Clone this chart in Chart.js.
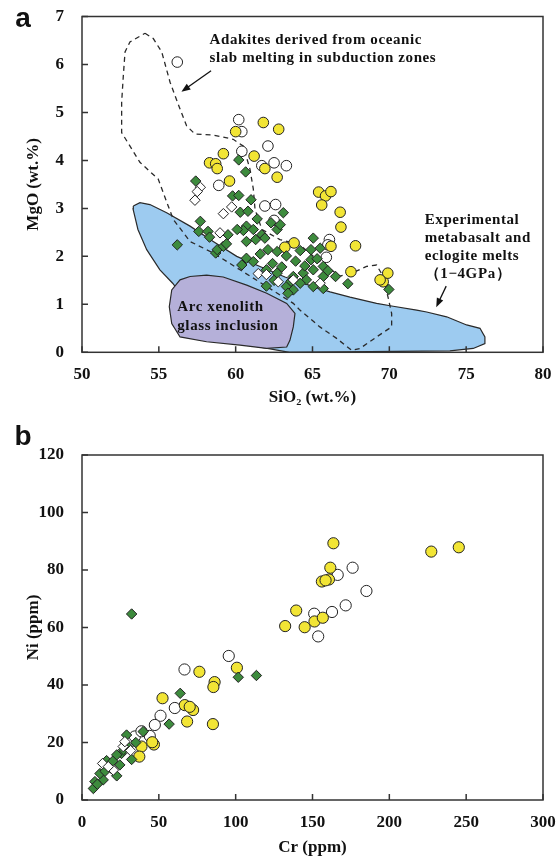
<!DOCTYPE html>
<html>
<head>
<meta charset="utf-8">
<script src="https://cdn.jsdelivr.net/npm/chart.js@4.4.1/dist/chart.umd.min.js"></script>
<style>
  html, body { margin: 0; padding: 0; background: #fff; }
  canvas { display: block; }
</style>
</head>
<body>
<canvas id="chartA" width="559" height="415"></canvas>
<canvas id="chartB" width="559" height="445"></canvas>
<script>
// ---- panel a : MgO vs SiO2 ----
const sio2Ticks = [50, 55, 60, 65, 70, 75, 80];
const mgoTicks = [0, 1, 2, 3, 4, 5, 6, 7];

const mgoYellow = [[60.0,4.60],[61.8,4.79],[62.8,4.65],[59.2,4.14],[61.2,4.09],[58.3,3.95],[58.7,3.93],[58.8,3.83],
  [61.9,3.83],[62.7,3.65],[59.6,3.57],[65.4,3.34],[65.85,3.26],[66.2,3.35],[65.6,3.07],[66.8,2.92],[66.85,2.61],
  [67.8,2.22],[67.5,1.68],[69.6,1.47],[69.9,1.65],[69.4,1.51],[63.8,2.28],[63.2,2.19],[66.2,2.21]];
const mgoWhite = [[56.2,6.05],[60.2,4.85],[60.4,4.60],[62.1,4.30],[60.4,4.19],[61.7,3.89],[62.5,3.95],[63.3,3.89],
  [58.9,3.48],[61.9,3.05],[62.6,3.08],[62.5,2.75],[66.1,2.35],[66.0,2.24],[65.9,1.98]];
const mgoGreen = [[56.2,2.24],[57.4,3.57],[57.7,2.73],[57.6,2.52],[58.2,2.52],[58.3,2.40],[58.7,2.07],[58.8,2.14],
  [59.2,2.21],[59.4,2.26],[59.8,3.26],[60.2,3.27],[60.2,4.01],[60.65,3.76],[61.0,3.18],[60.3,2.92],[60.8,2.94],
  [61.4,2.78],[60.7,2.63],[60.5,2.54],[60.1,2.56],[61.15,2.56],[61.7,2.45],[60.7,2.31],[62.7,2.56],[61.9,2.38],
  [63.1,2.91],[62.9,2.66],[62.1,2.14],[62.7,2.10],[64.2,2.12],[65.05,2.38],[64.9,2.14],[65.5,2.17],[60.7,1.96],
  [60.4,1.82],[61.15,1.89],[62.0,1.72],[62.7,1.65],[63.3,2.01],[63.9,1.90],[64.9,1.93],[65.7,1.79],[65.05,1.72],
  [64.4,1.65],[63.75,1.58],[64.6,1.51],[65.7,1.58],[66.5,1.58],[67.3,1.43],[64.2,1.44],[65.05,1.37],[65.7,1.33],
  [63.3,1.37],[63.75,1.30],[62.0,1.38],[63.4,1.23],[69.97,1.31],[61.6,2.05],[62.4,1.85],[63.0,1.78],[61.3,2.35],
  [62.3,2.70],[59.5,2.45],[64.5,1.80],[63.6,1.48],[62.5,1.50],[66.0,1.70],[65.3,1.95]];
const mgoWhiteDiamond = [[57.35,3.17],[57.7,3.44],[57.5,3.35],[59.2,2.89],[59.74,3.03],[58.98,2.49],[61.47,1.64],
  [62.77,1.47],[63.75,1.51],[65.5,1.44],[62.0,1.62]];

// field outlines (SiO2, MgO)
const metabasaltField = [[53.34,3.05],[53.77,3.12],[54.42,3.08],[55.51,2.91],[57.03,2.63],[58.54,2.31],[60.07,2.00],
  [61.58,1.79],[63.21,1.57],[65.05,1.37],[66.14,1.26],[67.44,1.15],[69.17,1.02],[70.25,0.96],[71.78,0.88],[72.43,0.84],
  [73.73,0.74],[75.03,0.57],[75.9,0.50],[76.22,0.32],[76.22,0.18],[75.46,0.08],[73.94,0.03],[63.5,0.0],[60.9,0.15],
  [57.7,0.67],[55.9,1.44],[55.07,1.72],[54.21,2.14],[53.64,2.56],[53.32,2.99],[53.34,3.05]];
const xenolithField = [[57.03,1.58],[58.11,1.61],[59.19,1.57],[60.72,1.40],[62.02,1.23],[63.32,1.02],[63.86,0.81],
  [63.75,0.53],[63.53,0.25],[63.32,0.11],[62.02,0.08],[60.28,0.15],[58.11,0.22],[56.38,0.32],[55.84,0.60],[55.68,0.95],
  [55.84,1.30],[56.38,1.51],[57.03,1.58]];
const adakiteField = [[54.10,6.65],[54.64,6.54],[55.19,6.26],[55.73,5.63],[56.38,5.07],[56.81,4.72],[57.35,4.55],
  [58.54,4.53],[59.84,4.44],[60.49,4.30],[60.93,3.82],[61.15,3.40],[61.26,2.98],[61.71,2.56],[62.88,2.35],[64.18,2.24],
  [65.48,1.89],[66.78,1.59],[67.63,1.66],[68.52,1.79],[69.17,1.82],[69.60,1.58],[69.93,1.13],[70.15,0.81],[70.15,0.53],
  [69.17,0.32],[68.09,0.08],[67.55,0.04],[66.57,0.29],[65.48,0.53],[64.18,0.88],[63.75,1.02],[62.02,1.37],[60.28,1.72],
  [58.54,2.07],[57.03,2.31],[55.94,2.77],[55.61,3.05],[54.96,3.61],[53.77,3.96],[52.58,4.58],[52.58,5.21],[52.69,5.77],
  [52.80,6.26],[53.12,6.47],[54.10,6.65]];

// ---- panel b : Ni vs Cr ----
const crTicks = [0, 50, 100, 150, 200, 250, 300];
const niTicks = [0, 20, 40, 60, 80, 100, 120];

const niYellow = [[163.6,89.3],[227.3,86.4],[245.2,87.9],[161.6,80.8],[160.7,76.7],[156.1,76.0],[158.5,76.4],
  [139.4,65.9],[132.2,60.5],[144.9,60.1],[151.3,62.1],[156.7,63.4],[100.8,46.0],[76.4,44.6],[86.3,41.0],[85.5,39.3],
  [52.4,35.4],[66.9,33.0],[72.3,31.3],[70.1,32.4],[68.4,27.3],[85.2,26.4],[46.8,19.3],[38.7,18.6],[37.3,15.1],[45.7,20.1]];
const niWhite = [[95.5,50.1],[66.7,45.4],[60.4,32.0],[51.1,29.3],[47.4,26.1],[44.1,22.3],[34.4,22.1],[38.7,23.9],
  [176.1,80.8],[166.4,78.3],[185.1,72.7],[171.6,67.7],[162.7,65.4],[151.1,64.8],[153.7,56.9]];
const niGreen = [[32.3,64.7],[101.7,42.7],[113.5,43.3],[63.9,37.1],[56.7,26.4],[39.8,23.8],[29.0,22.6],[25.7,16.2],
  [32.3,14.1],[22.6,15.7],[24.6,12.2],[22.6,8.4],[13.8,7.0],[8.4,6.4],[7.4,4.0],[11.7,9.2],[16.0,13.7],[19.0,11.0],
  [27.0,17.5],[35.0,20.0],[30.0,18.5],[20.0,13.5],[10.0,5.5],[15.0,10.0]];
const niWhiteDiamond = [[13.4,12.7],[20.4,10.4],[17.1,11.6],[26.8,18.6],[31.6,17.2],[27.9,20.3]];

const YELLOW = '#f2e535';
const GREEN = '#3d8b3d';
const EDGE = '#222222';
const SERIF = '"Liberation Serif", "Times New Roman", serif';

const toPts = (arr) => arr.map(([x, y]) => ({ x, y }));

function markers(data, style, fill, radius) {
  return {
    data: toPts(data),
    pointStyle: style,
    pointRadius: radius,
    pointBackgroundColor: fill,
    pointBorderColor: EDGE,
    pointBorderWidth: 1,
    showLine: false,
    order: 1,
  };
}

function outline(data, opts) {
  return Object.assign({
    data: toPts(data),
    showLine: true,
    pointRadius: 0,
    tension: 0,
    borderColor: '#2a2a2a',
    borderWidth: 1.2,
    fill: false,
  }, opts);
}

// box, inward ticks, annotations
function framePlugin(cfg) {
  return {
    id: 'frame',
    afterDatasetsDraw(chart) {
      const { ctx, chartArea: a, scales: { x, y } } = chart;
      ctx.save();
      ctx.strokeStyle = '#333';
      ctx.lineWidth = 1.5;
      ctx.strokeRect(a.left, a.top, a.right - a.left, a.bottom - a.top);
      ctx.beginPath();
      x.ticks.forEach(t => {
        const p = x.getPixelForValue(t.value);
        ctx.moveTo(p, a.bottom); ctx.lineTo(p, a.bottom - 6);
      });
      y.ticks.forEach(t => {
        const p = y.getPixelForValue(t.value);
        ctx.moveTo(a.left, p); ctx.lineTo(a.left + 6, p);
      });
      ctx.stroke();

      ctx.fillStyle = '#111';
      ctx.textBaseline = 'middle';
      ctx.textAlign = 'left';
      ctx.font = 'bold 15px ' + SERIF;
      ctx.letterSpacing = '0.6px';
      (cfg.notes || []).forEach(n => {
        n.lines.forEach((txt, i) => {
          ctx.fillText(txt, x.getPixelForValue(n.x), y.getPixelForValue(n.y[i]));
        });
      });
      ctx.letterSpacing = '0px';

      (cfg.arrows || []).forEach(ar => {
        const x1 = x.getPixelForValue(ar.from[0]), y1 = y.getPixelForValue(ar.from[1]);
        const x2 = x.getPixelForValue(ar.to[0]), y2 = y.getPixelForValue(ar.to[1]);
        const ang = Math.atan2(y2 - y1, x2 - x1);
        ctx.strokeStyle = '#111';
        ctx.lineWidth = 1.3;
        ctx.beginPath(); ctx.moveTo(x1, y1); ctx.lineTo(x2 - 6 * Math.cos(ang), y2 - 6 * Math.sin(ang)); ctx.stroke();
        ctx.beginPath();
        ctx.moveTo(x2, y2);
        ctx.lineTo(x2 - 9 * Math.cos(ang) + 3.5 * Math.sin(ang), y2 - 9 * Math.sin(ang) - 3.5 * Math.cos(ang));
        ctx.lineTo(x2 - 9 * Math.cos(ang) - 3.5 * Math.sin(ang), y2 - 9 * Math.sin(ang) + 3.5 * Math.cos(ang));
        ctx.closePath(); ctx.fill();
      });

      ctx.font = 'bold 28px "Liberation Sans", Arial, sans-serif';
      ctx.textAlign = 'center';
      ctx.fillText(cfg.panel, 23, cfg.panelY);
      ctx.restore();
    }
  };
}

function axes(xTicks, yTicks, xTitle, yTitle, xHeight, xTitlePad) {
  const tickFont = { family: SERIF, size: 17, weight: 'bold' };
  const titleFont = { family: SERIF, size: 17, weight: 'bold' };
  return {
    x: {
      type: 'linear',
      min: xTicks[0], max: xTicks[xTicks.length - 1],
      afterBuildTicks: s => { s.ticks = xTicks.map(v => ({ value: v })); },
      afterFit: s => { s.height = xHeight; s.paddingLeft = 0; s.paddingRight = 0; },
      grid: { display: false, drawTicks: false },
      border: { display: false },
      ticks: { color: '#111', font: tickFont, padding: 12, maxRotation: 0 },
      title: { display: true, text: xTitle, color: '#111', font: titleFont, padding: { top: 0, bottom: xTitlePad } },
    },
    y: {
      type: 'linear',
      min: yTicks[0], max: yTicks[yTicks.length - 1],
      afterBuildTicks: s => { s.ticks = yTicks.map(v => ({ value: v })); },
      afterFit: s => { s.width = 82; s.paddingTop = 0; s.paddingBottom = 0; },
      grid: { display: false, drawTicks: false },
      border: { display: false },
      ticks: { color: '#111', font: tickFont, padding: 18 },
      title: { display: true, text: yTitle, color: '#111', font: titleFont, padding: { top: 23, bottom: 0 } },
    },
  };
}

const common = {
  responsive: false,
  animation: false,
  devicePixelRatio: 1,
  events: [],
  plugins: { legend: { display: false }, tooltip: { enabled: false } },
};

new Chart(document.getElementById('chartA'), {
  type: 'scatter',
  data: {
    datasets: [
      outline(metabasaltField, { backgroundColor: '#9dcbf0', fill: 'shape', order: 5 }),
      outline(xenolithField, { backgroundColor: '#b5b0d9', fill: 'shape', order: 4 }),
      outline(adakiteField, { borderDash: [5, 4], borderWidth: 1.3, order: 3 }),
      markers(mgoWhiteDiamond, 'rectRot', '#ffffff', 5.2),
      markers(mgoGreen, 'rectRot', GREEN, 5.2),
      markers(mgoYellow, 'circle', YELLOW, 5.3),
      markers(mgoWhite, 'circle', '#ffffff', 5.3),
    ],
  },
  options: Object.assign({}, common, {
    layout: { padding: { left: 0, right: 16, top: 16.5, bottom: 0 } },
    scales: axes(sio2Ticks, mgoTicks, 'SiO₂ (wt.%)', 'MgO (wt.%)', 62.7, 6.8),
  }),
  plugins: [framePlugin({
    panel: 'a', panelY: 19,
    notes: [
      { x: 58.3, y: [6.5, 6.13], lines: ['Adakites derived from oceanic', 'slab melting in subduction zones'] },
      { x: 72.3, y: [2.76, 2.38, 2.0, 1.64], lines: ['Experimental', 'metabasalt and', 'eclogite melts', '（1−4GPa）'] },
      { x: 56.2, y: [0.94, 0.55], lines: ['Arc xenolith', 'glass inclusion'] },
    ],
    arrows: [
      { from: [58.4, 5.87], to: [56.47, 5.43] },
      { from: [73.7, 1.38], to: [73.05, 0.94] },
    ],
  })],
});

new Chart(document.getElementById('chartB'), {
  type: 'scatter',
  data: {
    datasets: [
      markers(niWhiteDiamond, 'rectRot', '#ffffff', 5.2),
      markers(niGreen, 'rectRot', GREEN, 5.2),
      markers(niYellow, 'circle', YELLOW, 5.6),
      markers(niWhite, 'circle', '#ffffff', 5.6),
    ],
  },
  options: Object.assign({}, common, {
    layout: { padding: { left: 0, right: 16, top: 40, bottom: 0 } },
    scales: axes(crTicks, niTicks, 'Cr (ppm)', 'Ni (ppm)', 60, 1.8),
  }),
  plugins: [framePlugin({ panel: 'b', panelY: 22 })],
});
</script>
</body>
</html>
